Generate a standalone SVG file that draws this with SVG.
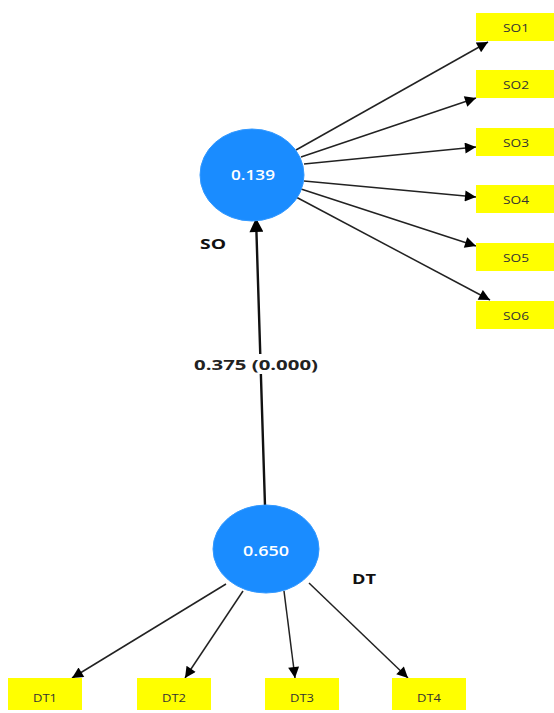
<svg xmlns="http://www.w3.org/2000/svg" width="554" height="713" viewBox="0 0 554 713">
<style>
.bg{fill:#ffffff}
.lv{fill:#1a8cff;stroke:#3399ff;stroke-width:1}
.lvt{font-family:"Open Sans","Noto Sans",sans-serif;font-size:14px;font-weight:600;fill:#ffffff;text-anchor:middle;dominant-baseline:central}
.ind{fill:#ffff00}
.indt{font-family:"Open Sans","Noto Sans",sans-serif;font-size:11.5px;fill:#333333;text-anchor:middle;dominant-baseline:central}
.name{font-family:"Open Sans","Noto Sans",sans-serif;font-size:15px;font-weight:700;fill:#111111;text-anchor:middle;dominant-baseline:central}
.c{stroke:#222222;stroke-width:1.5;fill:none;marker-end:url(#ah)}
.path{stroke:#111111;stroke-width:2.4;fill:none;marker-end:url(#ah2)}
.pl{font-family:"Open Sans","Noto Sans",sans-serif;font-size:14px;font-weight:700;fill:#222222;text-anchor:middle;dominant-baseline:central}
</style>
<defs>
<marker id="ah" viewBox="0 0 10 10" refX="10" refY="5" markerWidth="14" markerHeight="11" markerUnits="userSpaceOnUse" orient="auto"><path d="M0,0 L10,5 L0,10 z" fill="#000"/></marker>
<marker id="ah2" viewBox="0 0 10 10" refX="10" refY="5" markerWidth="17" markerHeight="14" markerUnits="userSpaceOnUse" orient="auto"><path d="M0,0 L10,5 L0,10 z" fill="#000"/></marker>
</defs>
<rect class="bg" x="0" y="0" width="554" height="713"/>
<g id="connectors">
<line class="path" x1="265" y1="506" x2="256" y2="218"/>
<rect x="192" y="354" width="128" height="20" fill="#ffffff"/>
<text class="pl" x="256" y="364" textLength="124" lengthAdjust="spacingAndGlyphs">0.375 (0.000)</text>
<line class="c" x1="296" y1="150" x2="488" y2="42"/>
<line class="c" x1="301" y1="157" x2="476" y2="98"/>
<line class="c" x1="304" y1="164" x2="476" y2="147"/>
<line class="c" x1="304" y1="181" x2="476" y2="197"/>
<line class="c" x1="301" y1="189" x2="476" y2="246"/>
<line class="c" x1="296" y1="197" x2="490" y2="300"/>
<line class="c" x1="226" y1="584" x2="72" y2="678"/>
<line class="c" x1="243" y1="591" x2="185" y2="678"/>
<line class="c" x1="284" y1="591" x2="295" y2="678"/>
<line class="c" x1="309" y1="583" x2="408" y2="678"/>
</g>
<g id="SO">
<ellipse class="lv" cx="252" cy="175" rx="52" ry="46"/>
<text class="lvt" x="253" y="174" textLength="44" lengthAdjust="spacingAndGlyphs">0.139</text>
<text class="name" x="213" y="243" textLength="26" lengthAdjust="spacingAndGlyphs">SO</text>
</g>
<g id="DT">
<ellipse class="lv" cx="266" cy="549" rx="53" ry="44"/>
<text class="lvt" x="266" y="550" textLength="46" lengthAdjust="spacingAndGlyphs">0.650</text>
<text class="name" x="364" y="578" textLength="24" lengthAdjust="spacingAndGlyphs">DT</text>
</g>
<g id="SO1"><rect class="ind" x="476" y="13" width="78" height="28"/><text class="indt" x="516" y="27" textLength="26" lengthAdjust="spacingAndGlyphs">SO1</text></g>
<g id="SO2"><rect class="ind" x="476" y="70" width="78" height="28"/><text class="indt" x="516" y="84" textLength="26" lengthAdjust="spacingAndGlyphs">SO2</text></g>
<g id="SO3"><rect class="ind" x="476" y="128" width="78" height="28"/><text class="indt" x="516" y="142" textLength="26" lengthAdjust="spacingAndGlyphs">SO3</text></g>
<g id="SO4"><rect class="ind" x="476" y="185" width="78" height="28"/><text class="indt" x="516" y="199" textLength="26" lengthAdjust="spacingAndGlyphs">SO4</text></g>
<g id="SO5"><rect class="ind" x="476" y="243" width="78" height="28"/><text class="indt" x="516" y="257" textLength="26" lengthAdjust="spacingAndGlyphs">SO5</text></g>
<g id="SO6"><rect class="ind" x="476" y="301" width="78" height="28"/><text class="indt" x="516" y="315" textLength="26" lengthAdjust="spacingAndGlyphs">SO6</text></g>
<g id="DT1"><rect class="ind" x="8" y="678" width="74" height="32"/><text class="indt" x="45" y="697" textLength="24" lengthAdjust="spacingAndGlyphs">DT1</text></g>
<g id="DT2"><rect class="ind" x="137" y="678" width="74" height="32"/><text class="indt" x="174" y="697" textLength="24" lengthAdjust="spacingAndGlyphs">DT2</text></g>
<g id="DT3"><rect class="ind" x="265" y="678" width="74" height="32"/><text class="indt" x="302" y="697" textLength="24" lengthAdjust="spacingAndGlyphs">DT3</text></g>
<g id="DT4"><rect class="ind" x="392" y="678" width="74" height="32"/><text class="indt" x="429" y="697" textLength="24" lengthAdjust="spacingAndGlyphs">DT4</text></g>
</svg>
